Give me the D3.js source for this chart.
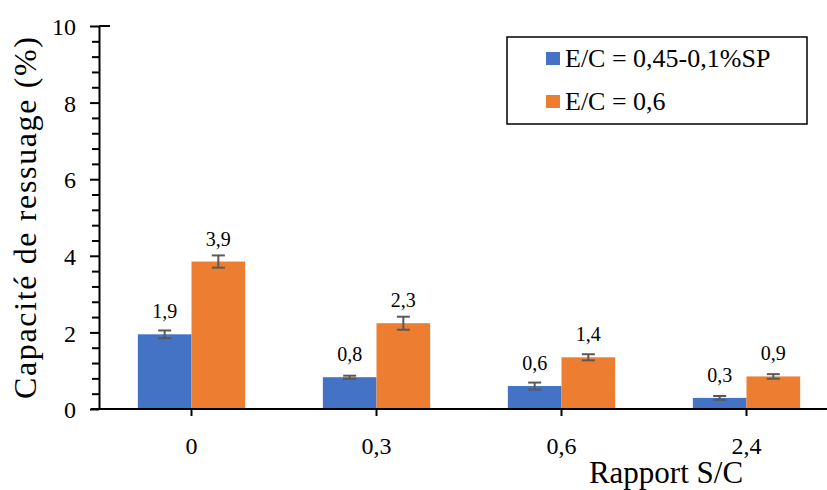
<!DOCTYPE html>
<html><head><meta charset="utf-8">
<script src="https://cdn.jsdelivr.net/npm/d3@7"></script>
</head><body style="margin:0"><svg id="c" width="827" height="490"></svg>
<script>
const categories = ["0", "0,3", "0,6", "2,4"];
const seriesNames = ["E/C = 0,45-0,1%SP", "E/C = 0,6"];
const seriesColors = ["#4472C4", "#ED7D31"];
const valuesA = [1.95, 0.83, 0.60, 0.29];
const valuesB = [3.85, 2.24, 1.35, 0.85];
const errorsA = [0.10, 0.04, 0.09, 0.05];
const errorsB = [0.16, 0.17, 0.08, 0.06];
const labelsA = ["1,9", "0,8", "0,6", "0,3"];
const labelsB = ["3,9", "2,3", "1,4", "0,9"];
const yTicks = [0, 2, 4, 6, 8, 10];

const FONT = "Liberation Serif";
const svg = d3.select("#c");
const x = d3.scaleBand().domain(categories).range([99, 839]).paddingInner(0.42).paddingOuter(0.21);
const xs = d3.scaleBand().domain([0, 1]).range([0, x.bandwidth()]);
const y = d3.scaleLinear().domain([0, 10]).range([409, 26]);

function serif(sel, size) {
  return sel.attr("font-family", FONT).style("font-family", FONT).style("font-size", size + "px").attr("fill", "#000");
}

const data = categories.map((c, i) => ({c, vals: [
  {s: 0, v: valuesA[i], e: errorsA[i], l: labelsA[i]},
  {s: 1, v: valuesB[i], e: errorsB[i], l: labelsB[i]}]}));

// bars
const g = svg.append("g");
data.forEach(d => {
  d.vals.forEach(b => {
    const bx = x(d.c) + xs(b.s);
    g.append("rect").attr("x", bx).attr("y", y(b.v)).attr("width", xs.bandwidth())
      .attr("height", y(0) - y(b.v)).attr("fill", seriesColors[b.s]);
  });
});
data.forEach(d => {
  d.vals.forEach(b => {
    const bx = x(d.c) + xs(b.s);
    const cx = bx + xs.bandwidth() / 2;
    g.append("line").attr("x1", cx).attr("x2", cx).attr("y1", y(b.v + b.e)).attr("y2", y(b.v - b.e))
      .attr("stroke", "#595959").attr("stroke-width", 2);
    [b.v + b.e, b.v - b.e].forEach(t => g.append("line").attr("x1", cx - 6.5).attr("x2", cx + 6.5)
      .attr("y1", y(t)).attr("y2", y(t)).attr("stroke", "#595959").attr("stroke-width", 2));
    serif(g.append("text").attr("x", cx).attr("y", y(b.v) - 16).attr("text-anchor", "middle"), 20).text(b.l);
  });
});

// y axis
const isMajor = d => yTicks.some(t => Math.abs(t - d) < 1e-6);
const yMinor = d3.range(0, 10.01, 0.4).filter(d => !isMajor(d));
const yMinorAxis = svg.append("g").attr("transform", "translate(99,0)")
  .call(d3.axisLeft(y).tickValues(yMinor).tickSize(7).tickFormat(""));
yMinorAxis.selectAll(".tick line").attr("stroke", "#000").attr("stroke-width", 2);
yMinorAxis.select(".domain").remove();
const ya = svg.append("g").attr("transform", "translate(99,0)")
  .call(d3.axisLeft(y).tickValues(yTicks).tickSize(9).tickSizeOuter(0).tickFormat(d3.format("d")));
ya.attr("font-family", FONT);
ya.selectAll(".domain").attr("stroke", "#000").attr("stroke-width", 2);
ya.selectAll(".tick line").attr("stroke", "#000").attr("stroke-width", 2);
serif(ya.selectAll(".tick text").attr("x", -23).attr("dy", "0.36em"), 24);
svg.append("line").attr("x1", 99).attr("x2", 110).attr("y1", y(10)).attr("y2", y(10)).attr("stroke", "#000").attr("stroke-width", 2);

// x axis
const xa = svg.append("g").attr("transform", "translate(0,409)")
  .call(d3.axisBottom(x).tickSize(7).tickSizeOuter(0));
xa.attr("font-family", FONT);
xa.select(".domain").attr("stroke", "#000").attr("stroke-width", 2).attr("d", "M91,0H827");
xa.selectAll(".tick line").attr("stroke", "#000").attr("stroke-width", 2);
serif(xa.selectAll(".tick text").attr("y", 28).attr("dy", "0.71em"), 24);

// titles
serif(svg.append("text").attr("transform", "translate(36,218) rotate(-90)").attr("text-anchor", "middle"), 32)
  .attr("textLength", 362).attr("lengthAdjust", "spacing").text("Capacité de ressuage (%)");
serif(svg.append("text").attr("x", 666).attr("y", 483).attr("text-anchor", "middle"), 31).text("Rapport S/C");

// legend
const lg = svg.append("g");
lg.append("rect").attr("x", 507).attr("y", 37).attr("width", 300).attr("height", 87)
  .attr("fill", "#fff").attr("stroke", "#000").attr("stroke-width", 1.5);
seriesNames.forEach((n, i) => {
  const base = 67 + i * 43;
  lg.append("rect").attr("x", 546).attr("y", base - 15).attr("width", 14).attr("height", 13).attr("fill", seriesColors[i]);
  serif(lg.append("text").attr("x", 565).attr("y", base), 26).text(n);
});
</script></body></html>
